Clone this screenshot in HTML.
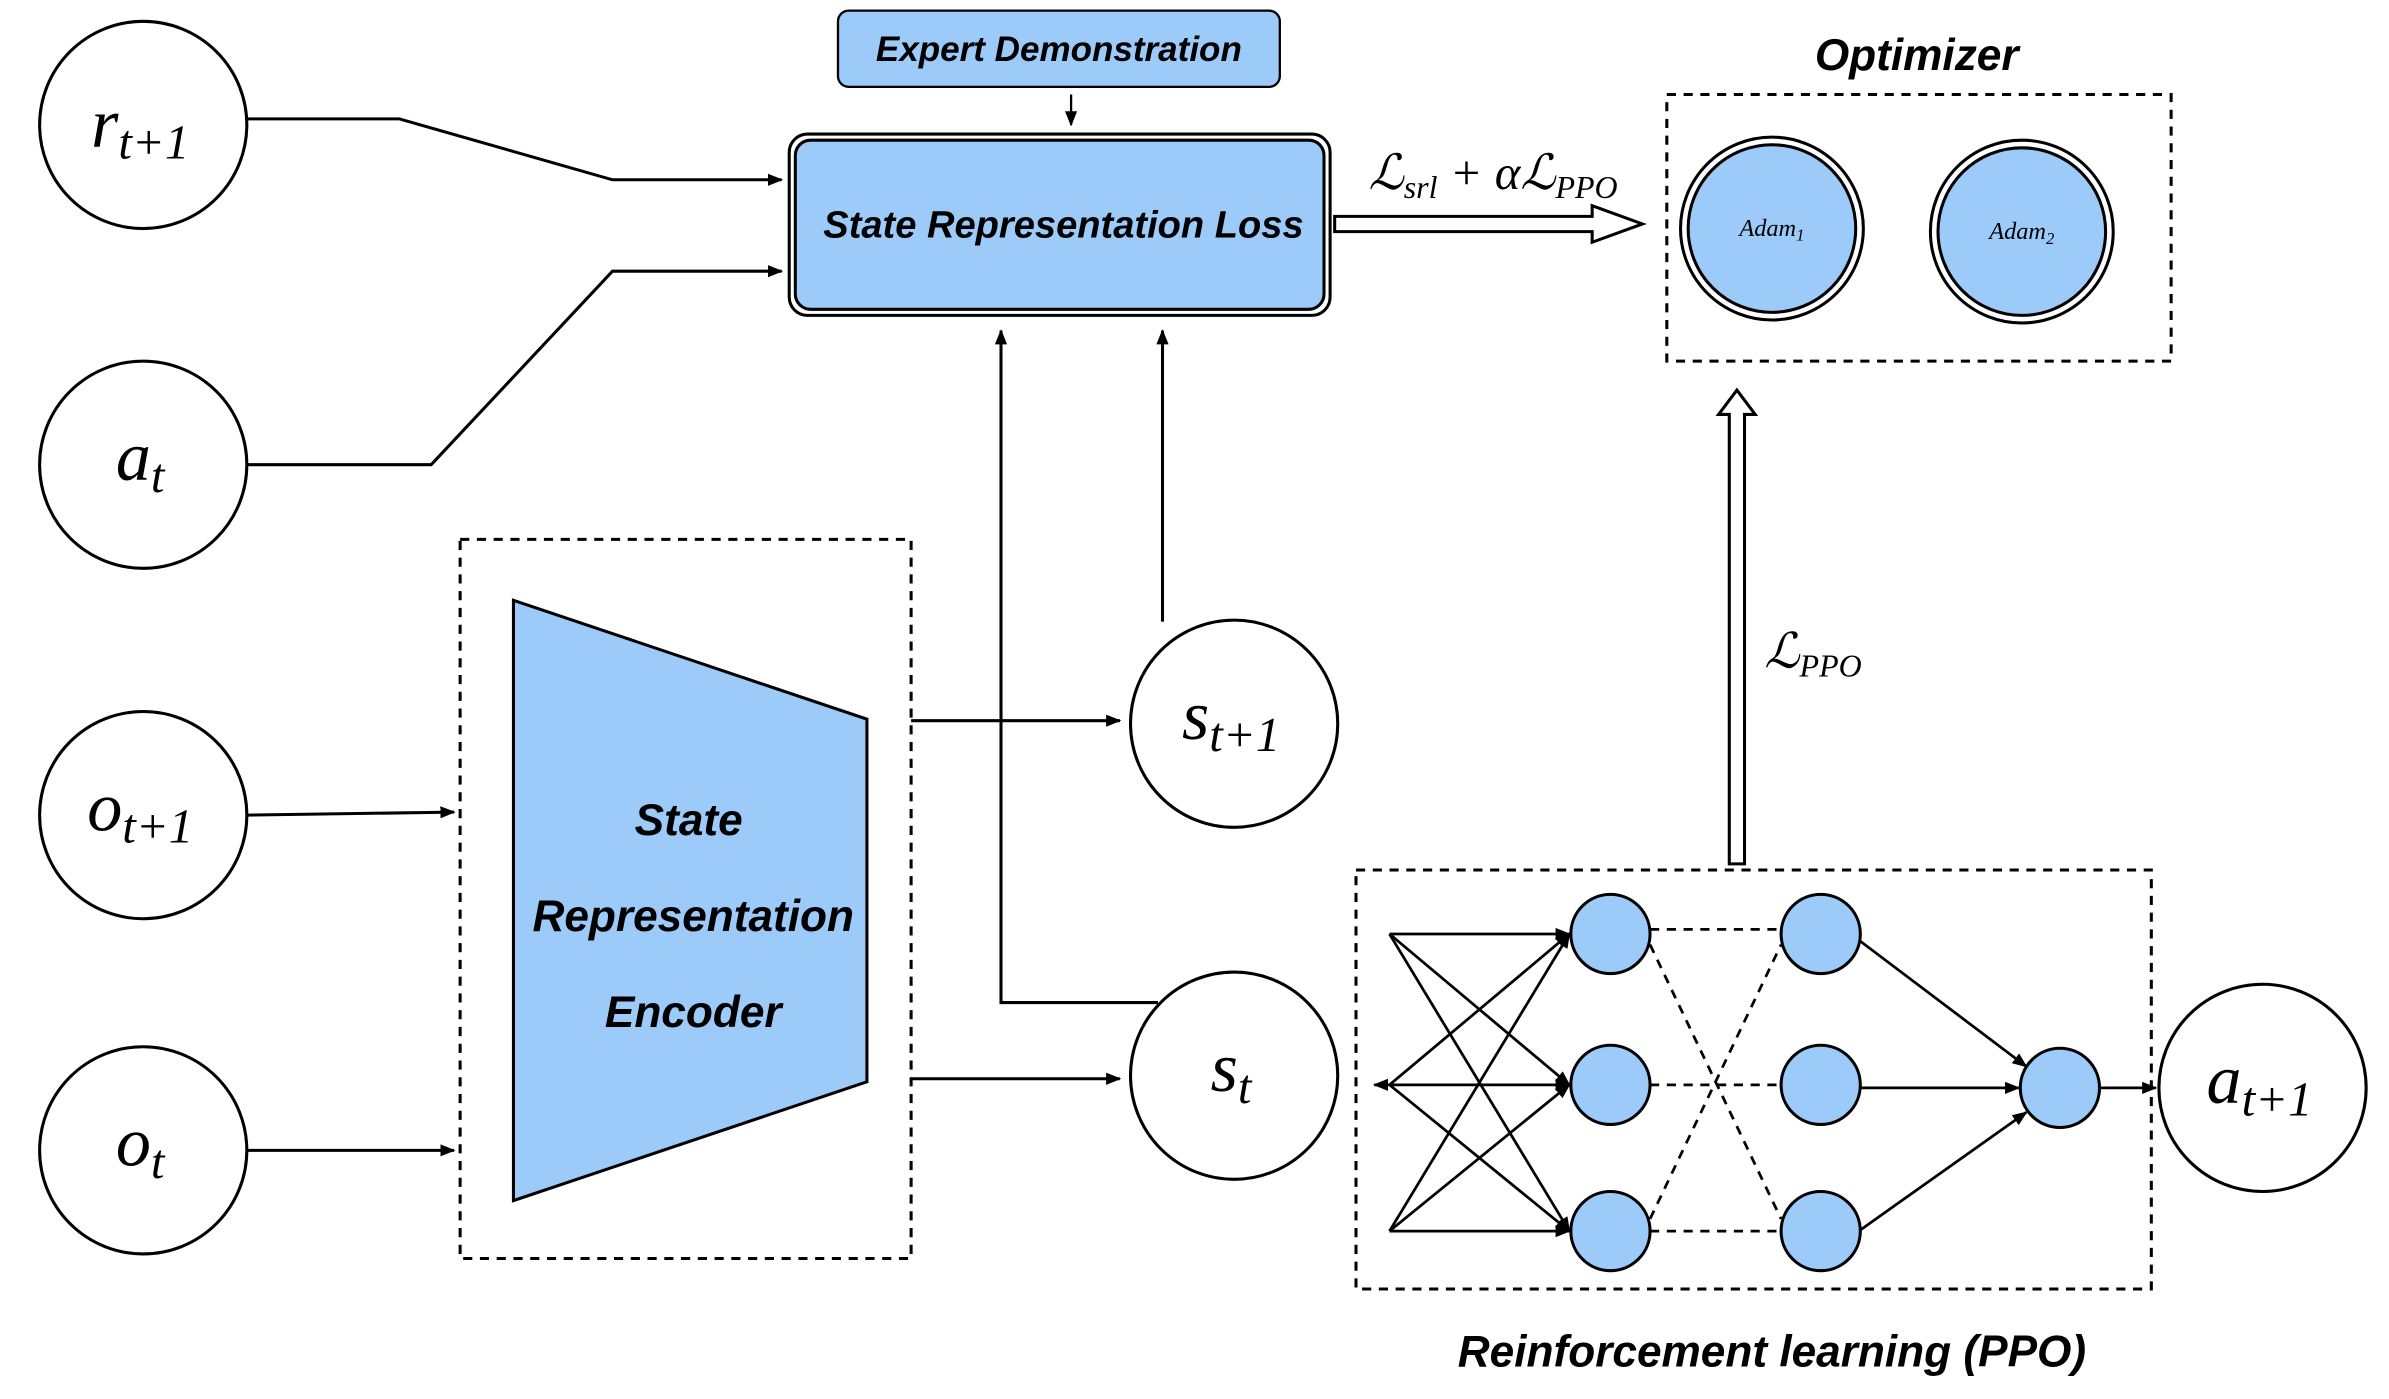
<!DOCTYPE html>
<html><head><meta charset="utf-8"><style>
html,body{margin:0;padding:0;background:#fff;}
svg{display:block;}
text{font-family:"Liberation Sans",sans-serif;}
text.m, g.m text{font-family:"Liberation Serif",serif;font-style:italic;}
.b{font-weight:bold;font-style:italic;}
</style></head><body>
<svg width="2389" height="1399" viewBox="0 0 1568 918.2" preserveAspectRatio="none" xmlns="http://www.w3.org/2000/svg">
<defs>
<marker id="a" markerWidth="10" markerHeight="8" refX="9" refY="4" orient="auto" markerUnits="userSpaceOnUse"><path d="M0,0 L10,4 L0,8 Z" fill="#000"/></marker>
</defs>
<g fill="#fff" stroke="#000" stroke-width="2">
<circle cx="94" cy="82" r="68"/><circle cx="94" cy="305" r="68"/>
<circle cx="94" cy="535" r="68"/><circle cx="94" cy="755" r="68"/>
<circle cx="810" cy="475" r="68"/><circle cx="810" cy="706" r="68"/>
<circle cx="1485" cy="714" r="68"/>
</g>
<g class="m" font-size="46" text-anchor="middle">
<text x="92" y="96">r<tspan font-size="32" dy="8">t+1</tspan></text>
<text x="92" y="315">a<tspan font-size="32" dy="8">t</tspan></text>
<text x="92" y="545">o<tspan font-size="32" dy="8">t+1</tspan></text>
<text x="92" y="765">o<tspan font-size="32" dy="8">t</tspan></text>
<text x="808" y="485">s<tspan font-size="32" dy="8">t+1</tspan></text>
<text x="808" y="716">s<tspan font-size="32" dy="8">t</tspan></text>
<text x="1483" y="724">a<tspan font-size="32" dy="8">t+1</tspan></text>
</g>
<rect x="550" y="7" width="290" height="50" rx="7" fill="#9ccaf9" stroke="#000" stroke-width="1.5"/>
<text x="695" y="40" class="b" font-size="23" text-anchor="middle">Expert Demonstration</text>
<line x1="703" y1="62" x2="703" y2="82" stroke="#000" stroke-width="1.5" marker-end="url(#a)"/>
<rect x="518" y="88" width="355" height="119" rx="12" fill="#fff" stroke="#000" stroke-width="2"/>
<rect x="522" y="92" width="347" height="111" rx="10" fill="#9ccaf9" stroke="#000" stroke-width="2"/>
<text x="698" y="156" class="b" font-size="25" text-anchor="middle">State Representation Loss</text>
<g fill="none" stroke="#000" stroke-width="2">
<polyline points="162,78 262,78 402,118 513,118" marker-end="url(#a)"/>
<polyline points="162,305 283,305 402,178 513,178" marker-end="url(#a)"/>
<line x1="162" y1="535" x2="298" y2="533" marker-end="url(#a)"/>
<line x1="162" y1="755" x2="298" y2="755" marker-end="url(#a)"/>
<line x1="598" y1="473" x2="735" y2="473" marker-end="url(#a)"/>
<line x1="598" y1="708" x2="735" y2="708" marker-end="url(#a)"/>
<polyline points="763,408 763,217" marker-end="url(#a)"/>
<polyline points="760,658 657,658 657,217" marker-end="url(#a)"/>
</g>
<path d="M876,142 L1045,142 L1045,135 L1078,147 L1045,159 L1045,152 L876,152 Z" fill="#fff" stroke="#000" stroke-width="2"/>
<text x="980" y="124" class="m" font-size="32" text-anchor="middle">ℒ<tspan font-size="21" dy="6">srl</tspan><tspan dy="-6"> + αℒ</tspan><tspan font-size="21" dy="6">PPO</tspan></text>
<rect x="1094" y="62" width="331" height="175" fill="none" stroke="#000" stroke-width="2" stroke-dasharray="6,5"/>
<text x="1258" y="46" class="b" font-size="29" text-anchor="middle">Optimizer</text>
<g stroke="#000" stroke-width="2">
<circle cx="1163" cy="150" r="60" fill="#fff"/><circle cx="1163" cy="150" r="55" fill="#9ccaf9"/>
<circle cx="1327" cy="152" r="60" fill="#fff"/><circle cx="1327" cy="152" r="55" fill="#9ccaf9"/>
</g>
<text x="1163" y="155" class="m" font-size="16" text-anchor="middle">Adam<tspan font-size="11" dy="3">1</tspan></text>
<text x="1327" y="157" class="m" font-size="16" text-anchor="middle">Adam<tspan font-size="11" dy="3">2</tspan></text>
<path d="M1135,567 L1135,272 L1128,272 L1140,256 L1152,272 L1145,272 L1145,567 Z" fill="#fff" stroke="#000" stroke-width="2"/>
<text x="1190" y="438" class="m" font-size="32" text-anchor="middle">ℒ<tspan font-size="21" dy="6">PPO</tspan></text>
<rect x="302" y="354" width="296" height="472" fill="none" stroke="#000" stroke-width="2" stroke-dasharray="6,5"/>
<polygon points="337,394 569,472 569,710 337,788" fill="#9ccaf9" stroke="#000" stroke-width="2"/>
<g class="b" font-size="29" text-anchor="middle">
<text x="452" y="548">State</text><text x="455" y="611">Representation</text><text x="455" y="674">Encoder</text>
</g>
<rect x="890" y="571" width="522" height="275" fill="none" stroke="#000" stroke-width="2" stroke-dasharray="6,5"/>
<text x="1163" y="897" class="b" font-size="29" text-anchor="middle">Reinforcement learning (PPO)</text>
<g stroke="#000" stroke-width="1.8" fill="none">
<line x1="912" y1="613" x2="1030" y2="613" marker-end="url(#a)"/>
<line x1="912" y1="613" x2="1030" y2="712" marker-end="url(#a)"/>
<line x1="912" y1="613" x2="1030" y2="808" marker-end="url(#a)"/>
<line x1="912" y1="712" x2="1030" y2="613" marker-end="url(#a)"/>
<line x1="912" y1="712" x2="1030" y2="712" marker-end="url(#a)"/>
<line x1="912" y1="712" x2="1030" y2="808" marker-end="url(#a)"/>
<line x1="912" y1="808" x2="1030" y2="613" marker-end="url(#a)"/>
<line x1="912" y1="808" x2="1030" y2="712" marker-end="url(#a)"/>
<line x1="912" y1="808" x2="1030" y2="808" marker-end="url(#a)"/>
<line x1="915" y1="712" x2="902" y2="712" marker-end="url(#a)"/>
<g stroke-dasharray="6,5">
<line x1="1083" y1="610" x2="1169" y2="610"/>
<line x1="1083" y1="712" x2="1169" y2="712"/>
<line x1="1083" y1="808" x2="1169" y2="808"/>
<line x1="1083" y1="620" x2="1169" y2="800"/>
<line x1="1083" y1="800" x2="1169" y2="620"/>
</g>
<line x1="1220" y1="617" x2="1330" y2="700" marker-end="url(#a)"/>
<line x1="1221" y1="714" x2="1325" y2="714" marker-end="url(#a)"/>
<line x1="1220" y1="808" x2="1330" y2="730" marker-end="url(#a)"/>
<line x1="1378" y1="714" x2="1415" y2="714" marker-end="url(#a)"/>
</g>
<g fill="#9ccaf9" stroke="#000" stroke-width="2">
<circle cx="1057" cy="613" r="26"/><circle cx="1057" cy="712" r="26"/><circle cx="1057" cy="808" r="26"/>
<circle cx="1195" cy="613" r="26"/><circle cx="1195" cy="712" r="26"/><circle cx="1195" cy="808" r="26"/>
<circle cx="1352" cy="714" r="26"/>
</g>
</svg>
</body></html>
